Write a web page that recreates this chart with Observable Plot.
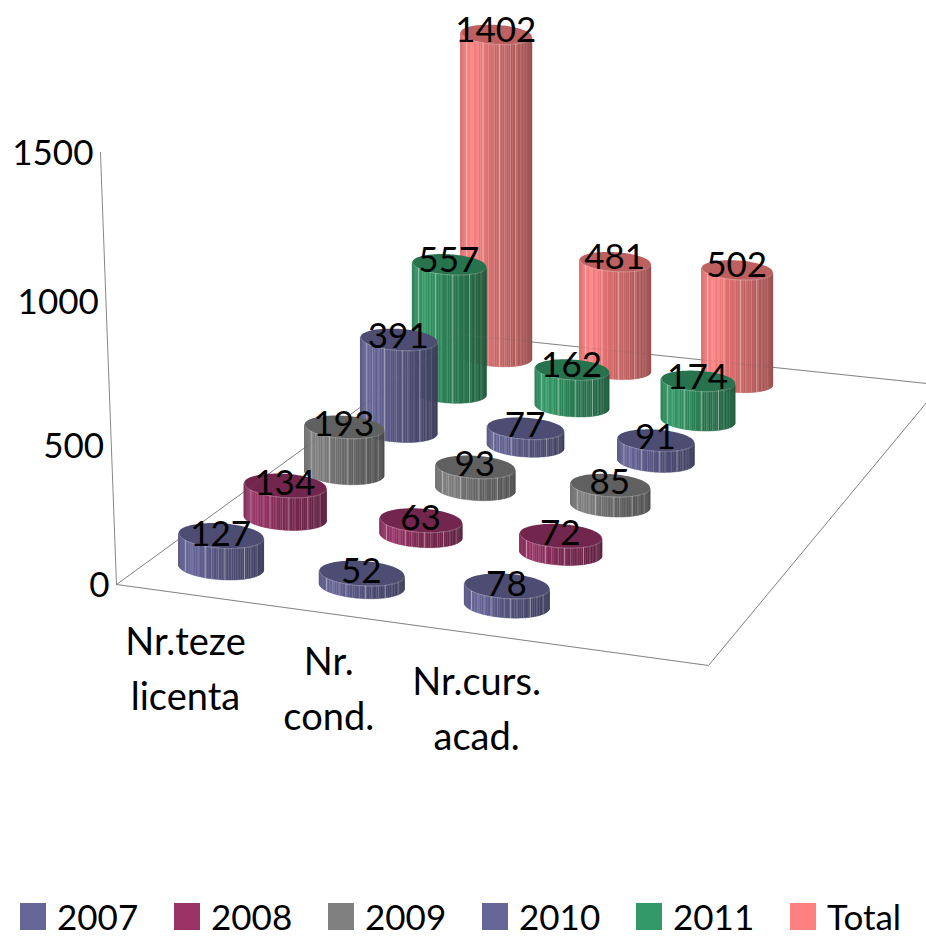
<!DOCTYPE html>
<html>
<head>
<meta charset="utf-8">
<script src="https://cdn.jsdelivr.net/npm/d3@7"></script>
<script src="https://cdn.jsdelivr.net/npm/@observablehq/plot@0.6"></script>
<style>
  html, body { margin: 0; padding: 0; background: #fff; overflow: hidden; }
  #chart svg { display: block; }
  #legend { display: flex; height: 42px; padding-left: 20px; font: 35px Lato, sans-serif; color: #000; }
  #legend .item { width: 154px; flex: none; display: flex; align-items: center; height: 42px; white-space: nowrap; }
  #legend .sw { width: 26px; height: 27px; margin-right: 11px; flex: none; }
</style>
</head>
<body>
<div id="chart"></div>
<div id="legend"></div>
<script>
// ---- data ----
const categories = ["Nr.teze\nlicenta", "Nr.\ncond.", "Nr.curs.\nacad."];
const seriesNames = ["2007", "2008", "2009", "2010", "2011", "Total"];
const seriesColors = ["#666699", "#993366", "#808080", "#666699", "#339966", "#FF8080"];
const v2007 = [127, 52, 78];
const v2008 = [134, 63, 72];
const v2009 = [193, 93, 85];
const v2010 = [391, 77, 91];
const v2011 = [557, 162, 174];
const vTotal = [1402, 481, 502];
const seriesValues = [v2007, v2008, v2009, v2010, v2011, vTotal];
const valueTicks = [0, 500, 1000, 1500];

// ---- 3D view ----
const W = 926, H = 895;
const slotsX = 4, slotsY = seriesNames.length;
function floor(u, v) { // u, v in 0..1 across the floor
  const w = 1 - 0.06163 * u + 0.26163 * v;
  return [(548.37 * u + 464.35 * v + 116) / w, (40.02 * u - 162.62 * v + 584) / w];
}
const cell = (j, i) => {
  const [x, y] = floor((j + 0.5) / slotsX, (i + 0.5) / slotsY);
  return [x + 1, y];
};
const rise = (value, i) => (0.25 - 0.0056 * i) * value / (1 - 2.5e-5 * value);  // px for a value in row i
const rx = i => 42.5 - 1.4 * i;
const ry = i => 12.3 - 0.55 * i;
const tilt = 0.06;
const axisRise = v => 0.2733 * v / (1 - 3.4e-5 * v);
const axisPoint = v => [116 - v * 0.0107, 584 - axisRise(v)];

const shadeStops = d3.scaleLinear().domain([0, 0.15, 0.5, 0.85, 1]).range([0.86, 1.0, 0.8, 0.68, 0.6]);
function shade(color, f) {
  const c = d3.rgb(color);
  return d3.rgb(Math.min(255, c.r * f), Math.min(255, c.g * f), Math.min(255, c.b * f)).formatHex();
}

const FACETS = 54, RIBS = 13;
function cylinderMarks(i, j, value) {
  const color = seriesColors[i];
  const [cx, by] = cell(j, i);
  const h = rise(value, i);
  const a = rx(i), b = ry(i);
  const ty = by - h;
  const edge = th => ({dx: -a * Math.cos(th), s: b * Math.sin(th)});
  // side wall as narrow strips
  const strips = [];
  for (let k = 0; k < FACETS; ++k) {
    const e0 = edge(Math.PI * k / FACETS), e1 = edge(Math.PI * (k + 1) / FACETS);
    const fill = shade(color, shadeStops(((e0.dx + e1.dx) / 2 + a) / (2 * a)));
    for (const e of [e0, e1]) {
      strips.push({
        id: k, fill,
        x: cx + e.dx,
        y1: by + e.s + tilt * e.dx,
        y2: ty + e.s + tilt * e.dx
      });
    }
  }
  // thin lighter ribs, evenly spread across the width
  const ribs = [];
  for (let k = 1; k < RIBS; ++k) {
    const t = 2 * k / RIBS - 1, dx = a * t, s = b * Math.sqrt(1 - t * t);
    ribs.push({
      x: cx + dx,
      y1: by + s + tilt * dx,
      y2: ty + s + tilt * dx,
      o: k % 3 === 1 ? 0.42 : 0.16
    });
  }
  // top ellipse
  const top = [], rim = [];
  for (let k = 0; k <= 60; ++k) {
    const th = Math.PI * k / 60, dx = -a * Math.cos(th), s = b * Math.sin(th);
    top.push({x: cx + dx, y1: ty + s + tilt * dx, y2: ty - s + tilt * dx});
    rim.push({x: cx + dx, y: ty + s + tilt * dx});
  }
  return [
    Plot.areaY(strips, {x: "x", y1: "y1", y2: "y2", z: "id", fill: "fill", stroke: "fill", strokeWidth: 0.4}),
    Plot.ruleX(ribs, {x: "x", y1: "y1", y2: "y2", stroke: "#fff", strokeOpacity: "o", strokeWidth: 1}),
    Plot.areaY(top, {x: "x", y1: "y1", y2: "y2", fill: shade(color, 0.75)}),
    Plot.line(rim, {x: "x", y: "y", stroke: "#fff", strokeOpacity: 0.2, strokeWidth: 1})
  ];
}

// ---- frame ----
const corners = [[0, 1], [0, 0], [1, 0], [1, 1], [0, 1]].map(([u, v]) => floor(u, v));
const frame = corners.map(([x, y]) => ({x, y}));
const axisLine = [axisPoint(0), axisPoint(1500)].map(([x, y]) => ({x, y}));

// ---- labels ----
const valueLabels = [];
seriesValues.forEach((vals, i) => vals.forEach((value, j) => {
  const [cx, by] = cell(j, i);
  valueLabels.push({x: cx - 1, y: by - rise(value, i) - 1.5 - 0.6 * i, text: String(value)});
}));
const catLabels = categories.map((text, j) => {
  const [x, y] = floor((j + 0.5) / slotsX, 0);
  return {x: x - 1, y: y + 71, text};
});
const tickLabels = valueTicks.map(v => {
  const [x, y] = axisPoint(v);
  return {x: x - 7, y: y + 1, text: String(v)};
});

// ---- assemble, far row first ----
const marks = [
  Plot.line(frame, {x: "x", y: "y", stroke: "#868686", strokeWidth: 1}),
  Plot.line(axisLine, {x: "x", y: "y", stroke: "#868686", strokeWidth: 1})
];
for (let i = seriesNames.length - 1; i >= 0; --i) {
  for (let j = 0; j < categories.length; ++j) {
    marks.push(...cylinderMarks(i, j, seriesValues[i][j]));
  }
}
marks.push(Plot.line(frame, {x: "x", y: "y", stroke: "#868686", strokeWidth: 1, strokeOpacity: 0.12}));
const textStyle = {x: "x", y: "y", text: "text", fill: "#000", fontFamily: "Lato, sans-serif", fontSize: 35};
marks.push(Plot.text(tickLabels, {...textStyle, textAnchor: "end"}));
marks.push(Plot.text(catLabels, {...textStyle, fontSize: 38, lineHeight: 1.45}));
marks.push(Plot.text(valueLabels, textStyle));

const chart = Plot.plot({
  width: W, height: H,
  margin: 0,
  x: {domain: [0, W], range: [0, W], axis: null},
  y: {domain: [0, H], range: [0, H], axis: null},
  style: {background: "#fff"},
  marks
});
document.getElementById("chart").append(chart);

const legend = document.getElementById("legend");
seriesNames.forEach((name, i) => {
  const item = document.createElement("div");
  item.className = "item";
  const sw = document.createElement("span");
  sw.className = "sw";
  sw.style.background = seriesColors[i];
  const label = document.createElement("span");
  label.textContent = name;
  item.append(sw, label);
  legend.append(item);
});
</script>
</body>
</html>
